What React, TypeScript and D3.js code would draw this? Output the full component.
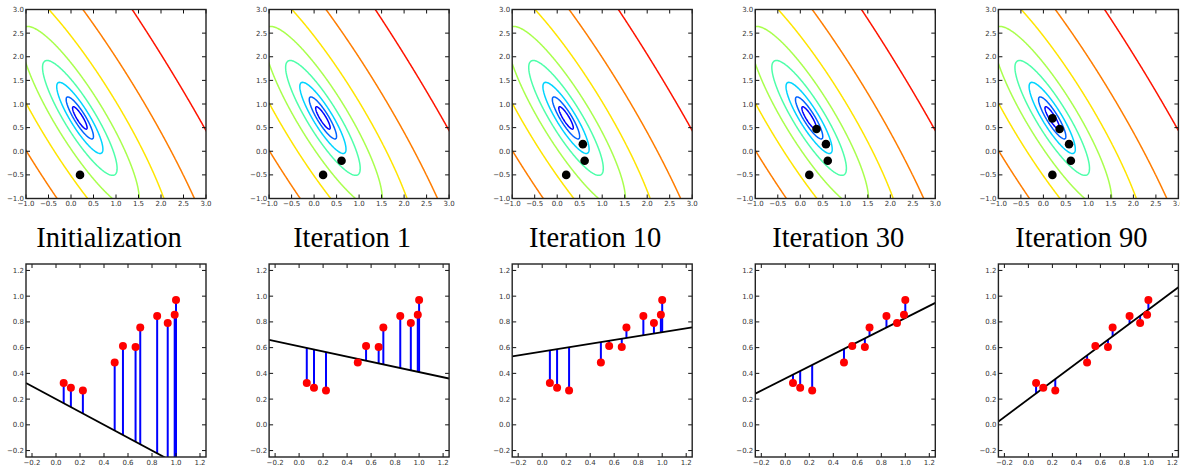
import { useMemo } from "react";
import * as d3 from "d3";

// training points
const pointX = [0.064, 0.124, 0.224, 0.489, 0.558, 0.663, 0.702, 0.843, 0.931, 0.989, 1.0];
const pointY = [0.325, 0.288, 0.267, 0.484, 0.613, 0.605, 0.757, 0.846, 0.791, 0.856, 0.971];

// (intercept, slope) visited by gradient descent
const pathIntercept = [0.2, 0.61, 0.57, 0.36, 0.2];
const pathSlope = [-0.5, -0.2, 0.15, 0.47, 0.695];

const titles = ["Initialization", "Iteration 1", "Iteration 10", "Iteration 30", "Iteration 90"];
const stepsShown = [1, 2, 3, 4, 5];

// cost contour levels (mean squared error)
const costLevels = [0.0096, 0.0246, 0.0636, 0.16, 0.4, 1.03, 2.64, 7.0];

const topTicks = [-1, -0.5, 0, 0.5, 1, 1.5, 2, 2.5, 3];
const bottomTicks = [-0.2, 0, 0.2, 0.4, 0.6, 0.8, 1.0, 1.2];

const levelColors = ["#0000ff", "#0063ff", "#00d4ff", "#4effaa", "#a9ff4d", "#ffe500", "#ff7d00", "#ff1400"];

const W = 1180;
const H = 465;
const panelX0 = 26;
const panelStep = 243.1;
const panelW = 180;
const top = { y: 9.5, h: 189 };
const bot = { y: 264, h: 193 };

const fmt = d3.format(".1f");
const tickFont = "DejaVu Sans, sans-serif";

const Frame = ({ x, y, w, h, xs, ys, xt, yt }: any) => (
  <g>
    {xt.map((t: number) => (
      <g key={"x" + t}>
        <line x1={xs(t)} x2={xs(t)} y1={y + h} y2={y + h - 4} stroke="#111" />
        <line x1={xs(t)} x2={xs(t)} y1={y} y2={y + 4} stroke="#111" />
        <text x={xs(t)} y={y + h + 7.5} fontSize={7} fontFamily={tickFont} fill="#333" textAnchor="middle">
          {fmt(t)}
        </text>
      </g>
    ))}
    {yt.map((t: number) => (
      <g key={"y" + t}>
        <line x1={x} x2={x + 4} y1={ys(t)} y2={ys(t)} stroke="#111" />
        <line x1={x + w} x2={x + w - 4} y1={ys(t)} y2={ys(t)} stroke="#111" />
        <text x={x - 2} y={ys(t) + 2.5} fontSize={7} fontFamily={tickFont} fill="#333" textAnchor="end">
          {fmt(t)}
        </text>
      </g>
    ))}
    <rect x={x} y={y} width={w} height={h} fill="none" stroke="#222" strokeWidth={1.4} />
  </g>
);

const App = () => {
  // cost surface over (intercept, slope)
  const N = 220;
  const g0 = -1.1;
  const g1 = 3.1;
  const gstep = (g1 - g0) / (N - 1);

  const contours = useMemo(() => {
    const values = new Array(N * N);
    for (let j = 0; j < N; j++) {
      const m = g0 + j * gstep;
      for (let i = 0; i < N; i++) {
        const b = g0 + i * gstep;
        let s = 0;
        for (let k = 0; k < pointX.length; k++) {
          const r = b + m * pointX[k] - pointY[k];
          s += r * r;
        }
        values[j * N + i] = s / pointX.length;
      }
    }
    return d3.contours().size([N, N]).thresholds(costLevels)(values);
  }, []);

  return (
    <svg width={W} height={H} style={{ position: "absolute", left: 0, top: 0, background: "#fff" }}>
      {titles.map((title, p) => {
        const x0 = panelX0 + p * panelStep;
        const xs = d3.scaleLinear().domain([-1, 3]).range([x0, x0 + panelW]);
        const ys = d3.scaleLinear().domain([-1, 3]).range([top.y + top.h, top.y]);
        const bx = d3.scaleLinear().domain([-0.25, 1.25]).range([x0, x0 + panelW]);
        const by = d3.scaleLinear().domain([-0.25, 1.25]).range([bot.y + bot.h, bot.y]);

        const proj = d3.geoTransform({
          point: function (this: any, u: number, v: number) {
            this.stream.point(xs(g0 + (u - 0.5) * gstep), ys(g0 + (v - 0.5) * gstep));
          },
        });
        const path = d3.geoPath(proj);

        const n = stepsShown[p];
        const b = pathIntercept[n - 1];
        const m = pathSlope[n - 1];
        const fitLine = d3
          .line<number>()
          .x((d) => bx(d))
          .y((d) => by(b + m * d));

        return (
          <g key={title}>
            <defs>
              <clipPath id={"ct" + p}>
                <rect x={x0} y={top.y} width={panelW} height={top.h} />
              </clipPath>
              <clipPath id={"cb" + p}>
                <rect x={x0} y={bot.y} width={panelW} height={bot.h} />
              </clipPath>
            </defs>

            <g clipPath={`url(#ct${p})`}>
              {contours.map((c, i) => (
                <path key={i} d={path(c as any) || ""} fill="none" stroke={levelColors[i]} strokeWidth={1.5} />
              ))}
              {pathIntercept.slice(0, n).map((pb, i) => (
                <circle key={i} cx={xs(pb)} cy={ys(pathSlope[i])} r={4.3} fill="#000" />
              ))}
            </g>
            <Frame x={x0} y={top.y} w={panelW} h={top.h} xs={xs} ys={ys} xt={topTicks} yt={topTicks} />

            <text
              x={x0 + 83}
              y={247}
              fontSize={28.5}
              fontFamily="Liberation Serif, Times New Roman, serif"
              textAnchor="middle"
              fill="#000"
            >
              {title}
            </text>

            <g clipPath={`url(#cb${p})`}>
              {pointX.map((px, i) => (
                <line
                  key={i}
                  x1={bx(px)}
                  x2={bx(px)}
                  y1={by(pointY[i])}
                  y2={by(b + m * px)}
                  stroke="#0000ff"
                  strokeWidth={2}
                />
              ))}
              <path d={fitLine(bx.domain()) || ""} fill="none" stroke="#000" strokeWidth={1.8} />
              {pointX.map((px, i) => (
                <circle key={i} cx={bx(px)} cy={by(pointY[i])} r={4} fill="#ff0000" />
              ))}
            </g>
            <Frame x={x0} y={bot.y} w={panelW} h={bot.h} xs={bx} ys={by} xt={bottomTicks} yt={bottomTicks} />
          </g>
        );
      })}
    </svg>
  );
};

export default App;
